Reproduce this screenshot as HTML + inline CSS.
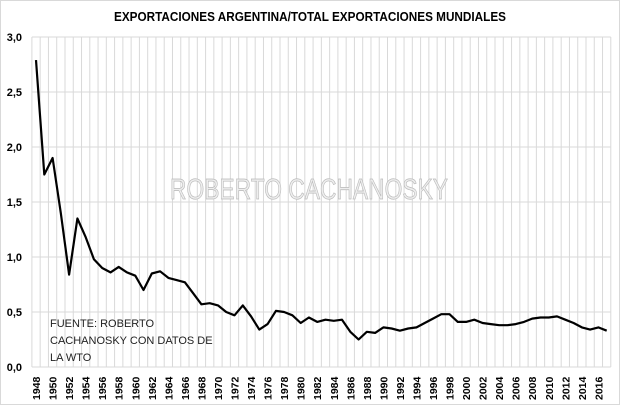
<!DOCTYPE html>
<html><head><meta charset="utf-8"><style>
html,body{margin:0;padding:0;background:#fff;}
svg{display:block;font-family:"Liberation Sans",sans-serif;}
</style></head><body>
<svg id="c" width="620" height="405" viewBox="0 0 620 405" xmlns="http://www.w3.org/2000/svg">
<rect x="0.5" y="0.5" width="619" height="404" fill="#fff" stroke="#d9d9d9"/>
<text x="310" y="21" text-anchor="middle" font-size="12.5" font-weight="bold" fill="#000" textLength="392" lengthAdjust="spacingAndGlyphs">EXPORTACIONES ARGENTINA/TOTAL  EXPORTACIONES MUNDIALES</text>
<g id="grid"></g>
<text x="309" y="199" text-anchor="middle" font-size="29" fill="#eeeeee" stroke="#b8b8b8" stroke-width="0.7" textLength="278" lengthAdjust="spacingAndGlyphs">ROBERTO CACHANOSKY</text>
<g font-size="11" fill="#222">
<text x="50" y="327">FUENTE: ROBERTO</text>
<text x="50" y="344">CACHANOSKY CON DATOS DE</text>
<text x="50" y="361">LA WTO</text>
</g>
<polyline id="ln" fill="none" stroke="#000" stroke-width="2.2" stroke-linejoin="round"/>
<g id="lab"></g>
</svg>
<script>
var d=[2.79,1.75,1.90,1.40,0.84,1.35,1.18,0.98,0.90,0.86,0.91,0.86,0.83,0.70,0.85,0.87,0.81,0.79,0.77,0.67,0.57,0.58,0.56,0.50,0.47,0.56,0.46,0.34,0.39,0.51,0.50,0.47,0.40,0.45,0.41,0.43,0.42,0.43,0.32,0.25,0.32,0.31,0.36,0.35,0.33,0.35,0.36,0.40,0.44,0.48,0.48,0.41,0.41,0.43,0.40,0.39,0.38,0.38,0.39,0.41,0.44,0.45,0.45,0.46,0.43,0.40,0.36,0.34,0.36,0.33];
var L=31.9,W=8.27,T=37,B=367,ns="http://www.w3.org/2000/svg";
var g=document.getElementById('grid'),lab=document.getElementById('lab');
function el(p,t,a,txt){var e=document.createElementNS(ns,t);for(var k in a)e.setAttribute(k,a[k]);if(txt)e.textContent=txt;p.appendChild(e);return e;}
for(var i=0;i<=70;i++){var x=L+i*W;el(g,'line',{x1:x,x2:x,y1:T,y2:B,stroke:'#d9d9d9','stroke-width':1});}
for(var j=0;j<=6;j++){var y=B-j*55;el(g,'line',{x1:L,x2:L+70*W,y1:y,y2:y,stroke:'#d9d9d9','stroke-width':1});
el(lab,'text',{x:22,y:y+4,'text-anchor':'end','font-size':11,'font-weight':'bold',fill:'#000'},(j*0.5).toFixed(1).replace('.',','));}
var pts=d.map(function(v,i){return (L+(i+0.5)*W).toFixed(1)+','+(B-v*110).toFixed(1);}).join(' ');
document.getElementById('ln').setAttribute('points',pts);
for(var i=0;i<70;i+=2){var x=L+(i+0.5)*W+4;el(lab,'text',{x:0,y:0,transform:'translate('+x+',400) rotate(-90)','font-size':10.5,'font-weight':'bold',fill:'#000'},String(1948+i));}
</script>
</body></html>
